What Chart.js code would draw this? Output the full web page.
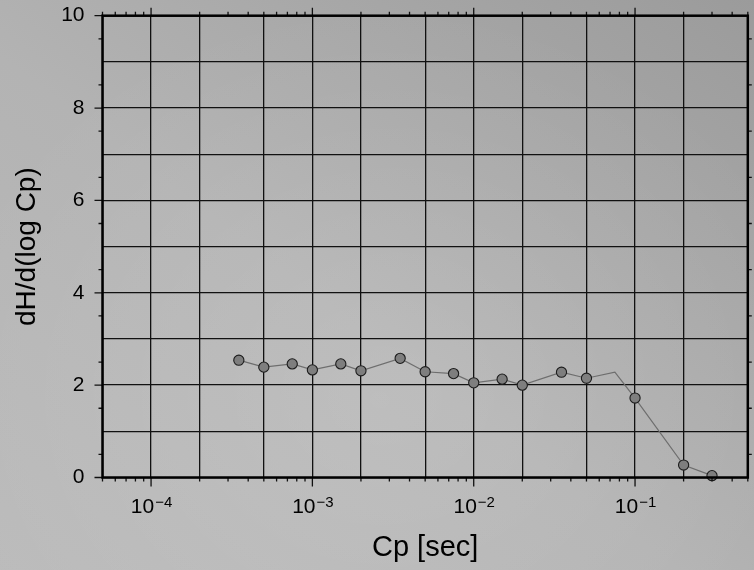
<!DOCTYPE html>
<html>
<head>
<meta charset="utf-8">
<script src="https://cdn.jsdelivr.net/npm/chart.js@4/dist/chart.umd.min.js"></script>
<style>
  html, body { margin: 0; padding: 0; }
  body {
    width: 754px; height: 570px; overflow: hidden;
    background:
      radial-gradient(ellipse 460px 400px at 380px 400px, rgba(255,255,255,0.13), rgba(255,255,255,0) 100%),
      linear-gradient(to bottom left, #9b9b9b 0%, #b3b3b3 55%, #bbbbbb 100%);
  }
  canvas { display: block; }
</style>
</head>
<body>
<canvas id="dhChart" width="754" height="570"></canvas>
<script>
// Cp [sec] and dH/d(log Cp)
const cpValues = [3.5e-4, 5e-4, 7.5e-4, 1e-3, 1.5e-3, 2e-3, 3.5e-3, 5e-3, 7.5e-3,
                  1e-2, 1.5e-2, 2e-2, 3.5e-2, 5e-2, 7.5e-2, 0.1, 0.2, 0.3];
const dHValues = [2.54, 2.39, 2.46, 2.33, 2.46, 2.31, 2.58, 2.29, 2.25,
                  2.05, 2.13, 2.00, 2.28, 2.15, 2.28, 1.72, 0.27, 0.04];
// the 7.5e-2 vertex has no marker
const markerShown = [true, true, true, true, true, true, true, true, true,
                     true, true, true, true, true, false, true, true, true];

const xMin = 5e-5, xMax = 0.5;
const yMin = 0, yMax = 10;
const yLabelValues = [0, 2, 4, 6, 8, 10];
const xDecades = [1e-4, 1e-3, 1e-2, 1e-1];
const gridMantissas = [1, 2, 5];

const FONT = '"Liberation Sans", Arial, Helvetica, sans-serif';

function mantissa(v) {
  const e = Math.floor(Math.log10(v) + 1e-9);
  return Math.round(v / Math.pow(10, e));
}

// tick marks, frame and 10^n labels
const frameAndTicks = {
  id: 'frameAndTicks',
  afterDraw(chart) {
    const { ctx, chartArea: a, scales: { x, y } } = chart;
    ctx.save();
    ctx.strokeStyle = '#111';
    ctx.lineWidth = 1.3;
    ctx.beginPath();
    for (let v = yMin; v <= yMax + 1e-9; v += 0.5) {
      const py = y.getPixelForValue(v);
      if (v % 2 === 0) {
        ctx.moveTo(a.left - 8, py); ctx.lineTo(a.left, py);
      } else if (v % 1 !== 0) {
        ctx.moveTo(a.left - 4, py); ctx.lineTo(a.left, py);
        ctx.moveTo(a.right, py); ctx.lineTo(a.right + 4, py);
      }
    }
    x.ticks.forEach(t => {
      const px = x.getPixelForValue(t.value);
      const decade = mantissa(t.value) === 1;
      ctx.moveTo(px, a.top); ctx.lineTo(px, a.top - (decade ? 8 : 4));
      ctx.moveTo(px, a.bottom); ctx.lineTo(px, a.bottom + (decade ? 9 : 4));
    });
    ctx.stroke();

    ctx.lineWidth = 2.5;
    ctx.strokeStyle = '#000';
    ctx.strokeRect(a.left, a.top, a.right - a.left, a.bottom - a.top);

    ctx.fillStyle = '#000';
    ctx.textBaseline = 'alphabetic';
    xDecades.forEach(v => {
      const px = x.getPixelForValue(v);
      const base = '10';
      const sup = '\u2212' + Math.abs(Math.round(Math.log10(v)));
      ctx.font = '21px ' + FONT;
      const w1 = ctx.measureText(base).width;
      ctx.font = '15px ' + FONT;
      const w2 = ctx.measureText(sup).width;
      const start = px - (w1 + w2) / 2;
      ctx.font = '21px ' + FONT;
      ctx.textAlign = 'left';
      ctx.fillText(base, start, a.bottom + 35.5);
      ctx.font = '15px ' + FONT;
      ctx.fillText(sup, start + w1 + 1, a.bottom + 29);
    });
    ctx.restore();
  }
};

new Chart(document.getElementById('dhChart'), {
  type: 'line',
  data: {
    datasets: [{
      data: cpValues.map((c, i) => ({ x: c, y: dHValues[i] })),
      borderColor: '#6e6e6e',
      borderWidth: 1.2,
      tension: 0,
      clip: false,
      pointRadius: c => markerShown[c.dataIndex] ? 5.1 : 0,
      pointBackgroundColor: '#7e7e7e',
      pointBorderColor: '#1c1c1c',
      pointBorderWidth: 1.1
    }]
  },
  options: {
    responsive: false,
    animation: false,
    events: [],
    layout: { padding: { top: 15.7, right: 0, left: 0, bottom: 0 } },
    plugins: { legend: { display: false }, tooltip: { enabled: false } },
    scales: {
      x: {
        type: 'logarithmic',
        min: xMin,
        max: xMax,
        afterBuildTicks: scale => {
          const ticks = [];
          for (let e = -5; e <= -1; e++) {
            for (let m = 1; m <= 9; m++) {
              const v = m * Math.pow(10, e);
              if (v >= xMin * 0.999 && v <= xMax * 1.001) ticks.push({ value: v });
            }
          }
          scale.ticks = ticks;
        },
        afterFit: scale => {
          scale.height = 92.5;
          scale.paddingLeft = 0;
          scale.paddingRight = 0;
        },
        ticks: { display: false },
        grid: {
          drawTicks: false,
          lineWidth: 1.3,
          color: c => gridMantissas.includes(mantissa(c.tick.value)) ? '#111' : 'rgba(0,0,0,0)'
        },
        border: { display: false },
        title: {
          display: true,
          text: 'Cp [sec]',
          color: '#000',
          font: { family: FONT, size: 29 },
          padding: { top: 0, bottom: 5 }
        }
      },
      y: {
        min: yMin,
        max: yMax,
        afterBuildTicks: scale => {
          const ticks = [];
          for (let v = yMin; v <= yMax; v++) ticks.push({ value: v });
          scale.ticks = ticks;
        },
        afterFit: scale => {
          scale.width = 102.5;
          scale.paddingTop = 0;
          scale.paddingBottom = 0;
        },
        ticks: {
          padding: 18,
          color: '#000',
          font: { family: FONT, size: 21 },
          callback: v => yLabelValues.includes(v) ? String(v) : ''
        },
        grid: { drawTicks: false, lineWidth: 1.3, color: '#111' },
        border: { display: false },
        title: {
          display: true,
          text: 'dH/d(log Cp)',
          color: '#000',
          font: { family: FONT, size: 28 },
          padding: { top: 10, bottom: 0 }
        }
      }
    }
  },
  plugins: [frameAndTicks]
});
</script>
</body>
</html>
